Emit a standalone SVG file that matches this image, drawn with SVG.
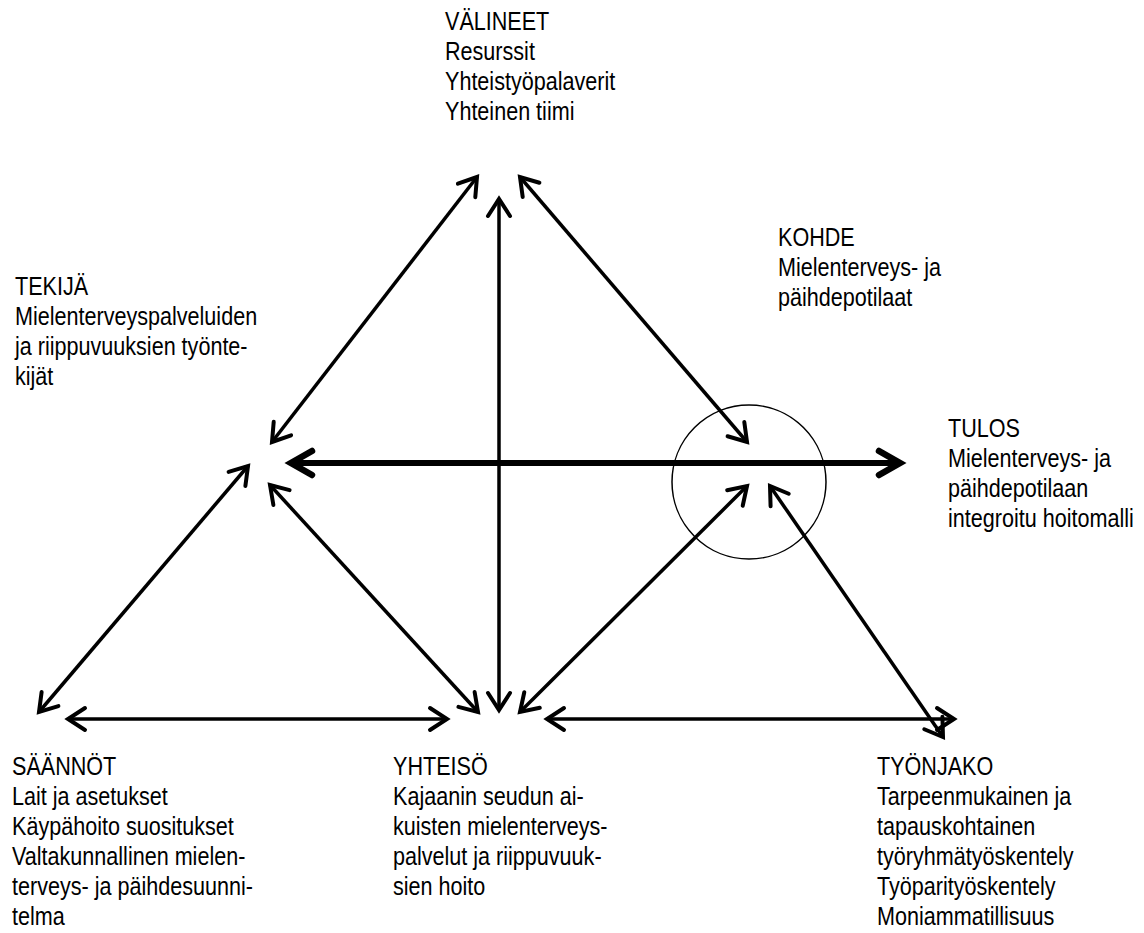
<svg xmlns="http://www.w3.org/2000/svg" width="1144" height="933" viewBox="0 0 1144 933">
<style>
text{font-family:"Liberation Sans Narrow","Arial Narrow","Liberation Sans",Arial,sans-serif;font-size:26px;fill:#000}
.c{fill:none;stroke:#000;stroke-width:3.5}
.t{fill:none;stroke:#000;stroke-width:6}
</style>
<defs>
<marker id="ah" markerUnits="userSpaceOnUse" orient="auto-start-reverse" refX="0" refY="0" markerWidth="40" markerHeight="40" viewBox="-30 -20 40 40" overflow="visible">
<path d="M-17,-11 L0,0 L-17,11" fill="none" stroke="#000" stroke-width="4" stroke-linecap="round" stroke-linejoin="miter"/>
</marker>
<marker id="ahT" markerUnits="userSpaceOnUse" orient="auto-start-reverse" refX="0" refY="0" markerWidth="50" markerHeight="50" viewBox="-35 -25 50 50" overflow="visible">
<path d="M-21,-12 L0,0 L-21,12" fill="none" stroke="#000" stroke-width="6.5" stroke-linecap="round" stroke-linejoin="miter"/>
</marker>
</defs>
<g id="connectors">
<circle cx="749" cy="482" r="77" fill="none" stroke="#000" stroke-width="1.5"/>
<line class="t" x1="291" y1="463" x2="900" y2="463" marker-start="url(#ahT)" marker-end="url(#ahT)"/>
<line class="c" x1="272" y1="442" x2="477" y2="177" marker-start="url(#ah)" marker-end="url(#ah)"/>
<line class="c" x1="499" y1="199" x2="499" y2="710" marker-start="url(#ah)" marker-end="url(#ah)"/>
<line class="c" x1="520" y1="177" x2="747" y2="442" marker-start="url(#ah)" marker-end="url(#ah)"/>
<line class="c" x1="39" y1="712" x2="248" y2="466" marker-start="url(#ah)" marker-end="url(#ah)"/>
<line class="c" x1="270" y1="485" x2="478" y2="712" marker-start="url(#ah)" marker-end="url(#ah)"/>
<line class="c" x1="520" y1="712" x2="747" y2="486" marker-start="url(#ah)" marker-end="url(#ah)"/>
<line class="c" x1="770" y1="486" x2="943" y2="737" marker-start="url(#ah)" marker-end="url(#ah)"/>
<line class="c" x1="68" y1="719" x2="447" y2="719" marker-start="url(#ah)" marker-end="url(#ah)"/>
<line class="c" x1="547" y1="719" x2="954" y2="719" marker-start="url(#ah)" marker-end="url(#ah)"/>
</g>
<g id="valineet" transform="translate(445,0) scale(0.83,1)">
<text x="0" y="30">VÄLINEET</text>
<text x="0" y="60">Resurssit</text>
<text x="0" y="90">Yhteistyöpalaverit</text>
<text x="0" y="120">Yhteinen tiimi</text>
</g>
<g id="tekija" transform="translate(15,0) scale(0.83,1)">
<text x="0" y="295">TEKIJÄ</text>
<text x="0" y="325">Mielenterveyspalveluiden</text>
<text x="0" y="355">ja riippuvuuksien työnte-</text>
<text x="0" y="385">kijät</text>
</g>
<g id="kohde" transform="translate(778,0) scale(0.83,1)">
<text x="0" y="246">KOHDE</text>
<text x="0" y="276">Mielenterveys- ja</text>
<text x="0" y="306">päihdepotilaat</text>
</g>
<g id="tulos" transform="translate(948,0) scale(0.83,1)">
<text x="0" y="437">TULOS</text>
<text x="0" y="467">Mielenterveys- ja</text>
<text x="0" y="497">päihdepotilaan</text>
<text x="0" y="527">integroitu hoitomalli</text>
</g>
<g id="saannot" transform="translate(12,0) scale(0.83,1)">
<text x="0" y="775">SÄÄNNÖT</text>
<text x="0" y="805">Lait ja asetukset</text>
<text x="0" y="835">Käypähoito suositukset</text>
<text x="0" y="865">Valtakunnallinen mielen-</text>
<text x="0" y="895">terveys- ja päihdesuunni-</text>
<text x="0" y="925">telma</text>
</g>
<g id="yhteiso" transform="translate(393,0) scale(0.83,1)">
<text x="0" y="775">YHTEISÖ</text>
<text x="0" y="805">Kajaanin seudun ai-</text>
<text x="0" y="835">kuisten mielenterveys-</text>
<text x="0" y="865">palvelut ja riippuvuuk-</text>
<text x="0" y="895">sien hoito</text>
</g>
<g id="tyonjako" transform="translate(877,0) scale(0.83,1)">
<text x="0" y="775">TYÖNJAKO</text>
<text x="0" y="805">Tarpeenmukainen ja</text>
<text x="0" y="835">tapauskohtainen</text>
<text x="0" y="865">työryhmätyöskentely</text>
<text x="0" y="895">Työparityöskentely</text>
<text x="0" y="925">Moniammatillisuus</text>
</g>
</svg>
